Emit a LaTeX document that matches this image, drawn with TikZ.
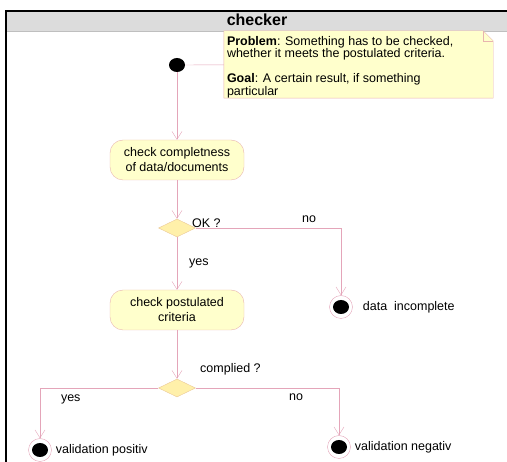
\documentclass[tikz,border=0pt]{standalone}
\usepackage{fontspec}
\setmainfont{Liberation Sans}
\usetikzlibrary{arrows.meta,shapes.geometric,positioning,backgrounds}

\definecolor{umlline}{RGB}{228,165,185}
\definecolor{umlfill}{RGB}{255,255,204}
\definecolor{umlborder}{RGB}{232,180,175}
\definecolor{choicefill}{RGB}{255,240,170}
\definecolor{choiceborder}{RGB}{235,200,150}
\definecolor{headgray}{RGB}{220,220,220}

\tikzstyle{activity} = [draw=umlborder, fill=umlfill, rectangle, rounded corners=13pt,
    minimum width=134pt, minimum height=40pt, align=center,
    font=\fontsize{12.5}{15}\selectfont]
\tikzstyle{decision} = [draw=choiceborder, fill=choicefill, diamond, inner sep=0pt,
    minimum width=37pt, minimum height=18pt]
\tikzstyle{initial} = [ellipse, fill=black, inner sep=0pt,
    minimum width=16pt, minimum height=14pt]
\tikzstyle{final} = [circle, draw=umlline, fill=white, inner sep=0pt, minimum size=23pt,
    path picture={\fill[black] (path picture bounding box.center) ellipse [x radius=8pt, y radius=7pt];}]
\tikzstyle{notebox} = [rectangle, minimum width=269pt, minimum height=67pt, inner sep=0pt]
\tikzstyle{guard} = [font=\fontsize{12.5}{15}\selectfont, inner sep=0pt]
\tikzstyle{flow} = [draw=umlline, -{Straight Barb[length=8pt,width=10pt]}]

\begin{document}
\begin{tikzpicture}[x=1pt, y=-1pt, node distance=95pt]
    \useasboundingbox (0,0) rectangle (507,462);
    % frame with title bar
    \fill [headgray] (6,11) rectangle (507,31);
    \draw [gray!50] (6,31) -- (507,31);
    \draw [line width=2pt] (6,462) -- (6,11) -- (507,11);
    \node [font=\fontsize{16}{18}\selectfont\bfseries] (title) at (257,20) {checker};

    % note with folded corner
    \node [notebox] (note) at (358.5,64.5) {};
    \filldraw [fill=umlfill, draw=umlborder] (note.north west) -- ([xshift=-10pt]note.north east)
        -- ([yshift=-10pt]note.north east) -- (note.south east) -- (note.south west) -- cycle;
    \draw [umlborder] ([xshift=-10pt]note.north east) |- ([yshift=-10pt]note.north east);
    \node [anchor=north west, inner sep=0pt, align=left, font=\fontsize{12.5}{11.5}\selectfont]
        (notetext) at ([xshift=3pt, yshift=-5pt]note.north west)
        {\textbf{Problem}: Something has to be checked,\\
         whether it meets the postulated criteria.\\[12pt]
         \textbf{Goal}: A certain result, if something\\
         particular};

    \node [initial] (start) at (177,65) {};
    \node [activity, below of=start] (completeness) {check completness\\of data/documents};
    \node [decision, below of=completeness, node distance=68pt] (ok) {};
    \node [activity, below of=ok, node distance=82pt] (postulated) {check postulated\\criteria};
    \node [decision, below of=postulated, node distance=78pt] (complied) {};
    \node [final] (incomplete) at (341,307) {};
    \node [final] (positiv) at (40,450) {};
    \node [final] (negativ) at (339,447) {};

    \node [guard, anchor=west] (okq) at (192,223) {OK ?};
    \node [guard, anchor=west] (compliedq) at (200,369) {complied ?};
    \node [guard, right=10pt of incomplete] {data\ \ incomplete};
    \node [guard, right=4pt of positiv] {validation positiv};
    \node [guard, right=4pt of negativ] {validation negativ};

    \draw [umlline] (start) -- (note);
    \draw [flow] (start) -- (completeness);
    \draw [flow] (completeness) -- (ok);
    \draw [flow] (ok) -- node [guard, right=12pt] {yes} (postulated);
    \draw [flow] (ok.east) -| node [guard, pos=0.39, above=5pt] {no} (incomplete);
    \draw [flow] (postulated) -- (complied);
    \draw [flow] (complied.west) -| node [guard, pos=0.37, below=7pt] {yes} (positiv);
    \draw [flow] (complied.east) -| node [guard, pos=0.35, below=6pt] {no} (negativ);
\end{tikzpicture}
\end{document}
